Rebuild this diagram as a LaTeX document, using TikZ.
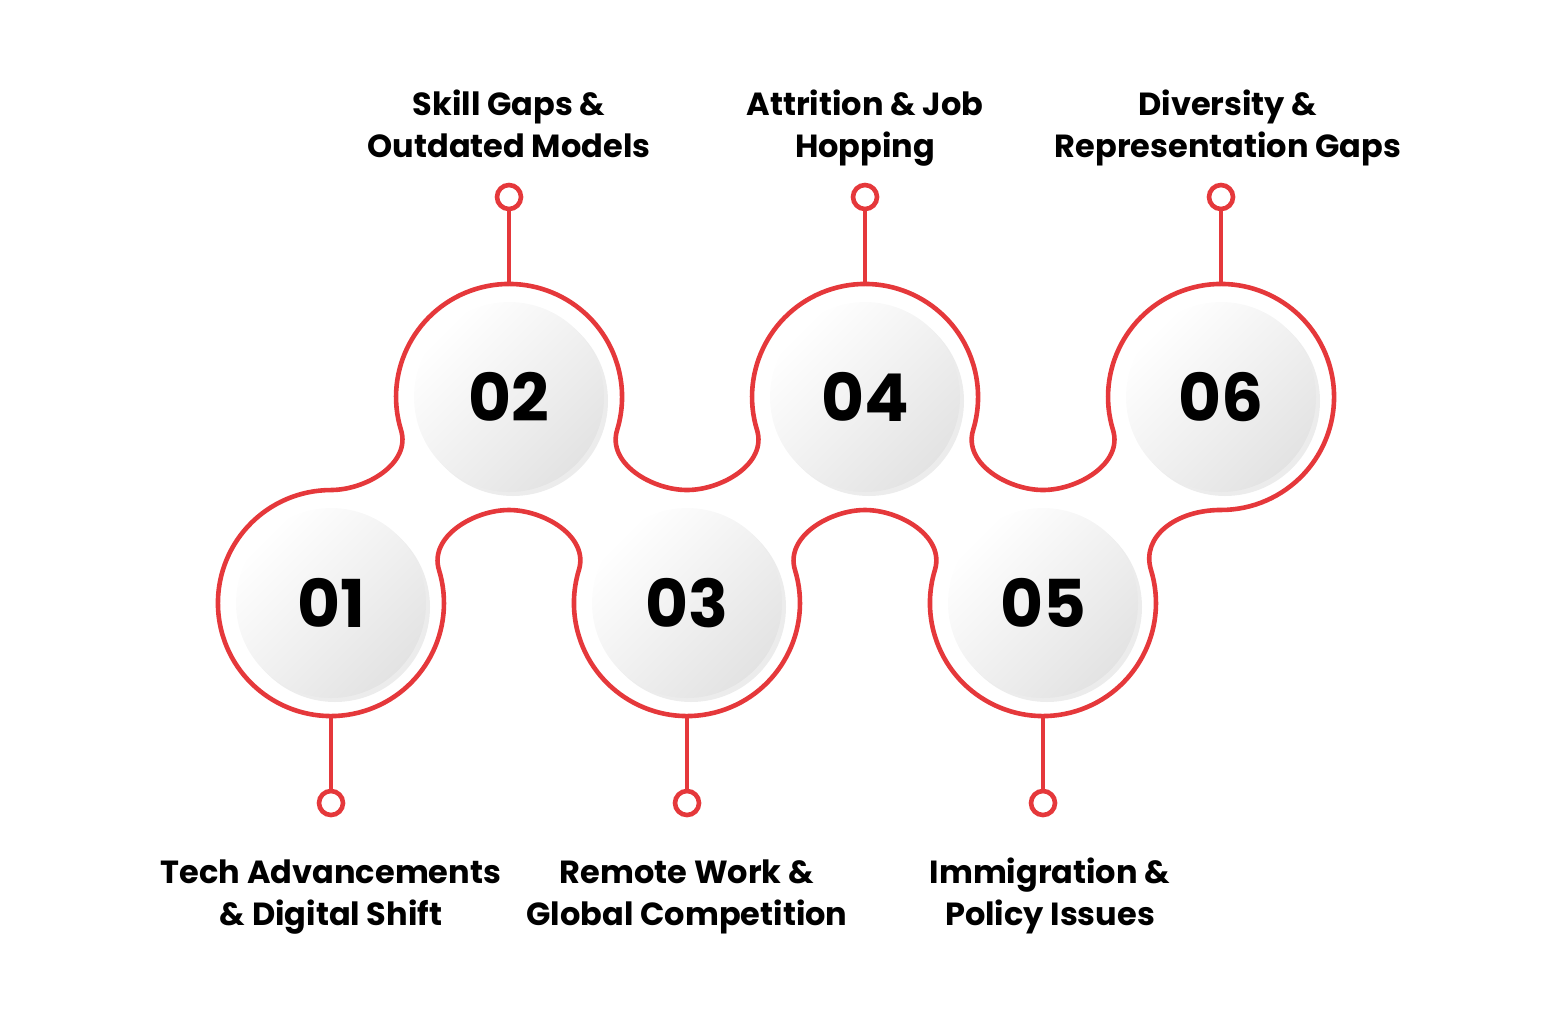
\documentclass[tikz,border=0pt]{standalone}
\usepackage{fontspec}
\setmainfont{Poppins}
\usetikzlibrary{shadows}
\definecolor{rd}{HTML}{E5383B}
\begin{document}
\begin{tikzpicture}[x=0.5pt,y=0.5pt,
  ring/.style={draw=rd,line width=2.3pt},
  ball/.style={circle,minimum size=95pt,inner sep=0pt,left color=white,right color=gray!22,shading angle=45,
    font=\fontsize{33}{33}\selectfont\bfseries,text=black},
  pin/.style={circle,draw=rd,line width=2.3pt,fill=white,minimum size=12pt,inner sep=0pt},
  lab/.style={align=center,anchor=base,font=\fontsize{16}{21}\selectfont\bfseries,text=black}]
\useasboundingbox (0,0) rectangle (1552,-1008);
\draw[ring,line join=round]
 (331,-490) .. controls +(0:35) and +(-73:35) .. (401,-430)
 arc[start angle=197,end angle=-17,radius=113]
 .. controls +(-107:35) and +(180:35) .. (687,-490)
 .. controls +(0:35) and +(-73:35) .. (757,-430)
 arc[start angle=197,end angle=-17,radius=113]
 .. controls +(-107:35) and +(180:35) .. (1043,-490)
 .. controls +(0:35) and +(-73:35) .. (1113,-430)
 arc[start angle=197,end angle=-90,radius=113]
 .. controls +(180:45) and +(107:35) .. (1151,-570)
 arc[start angle=17,end angle=-197,radius=113]
 .. controls +(73:35) and +(0:35) .. (865,-510)
 .. controls +(180:35) and +(107:35) .. (795,-570)
 arc[start angle=17,end angle=-197,radius=113]
 .. controls +(73:35) and +(0:35) .. (509,-510)
 .. controls +(180:35) and +(107:35) .. (439,-570)
 arc[start angle=17,end angle=-270,radius=113] -- cycle;
\foreach \i/\x/\y/\s in {1/331/-603/-1,2/509/-397/1,3/687/-603/-1,4/865/-397/1,5/1043/-603/-1,6/1221/-397/1}{
  \node[ball,drop shadow={shadow xshift=2pt,shadow yshift=-2pt,opacity=0.15}] (b\i) at (\x,\y) {0\i};
  \coordinate (e\i) at (\x,\y+\s*113);
  \node[pin] (p\i) at (\x,\y+\s*200) {};
  \draw[ring] (e\i) -- (p\i);
}
\node[lab] (t2) at (509,-157) {Skill Gaps \&\\Outdated Models};
\node[lab] (t4) at (865,-157) {Attrition \& Job\\Hopping};
\node[lab] (t6) at (1228,-157) {Diversity \&\\Representation Gaps};
\node[lab] (t1) at (331,-925) {Tech Advancements\\\& Digital Shift};
\node[lab] (t3) at (687,-925) {Remote Work \&\\Global Competition};
\node[lab] (t5) at (1050,-925) {Immigration \&\\Policy Issues};
\end{tikzpicture}
\end{document}
